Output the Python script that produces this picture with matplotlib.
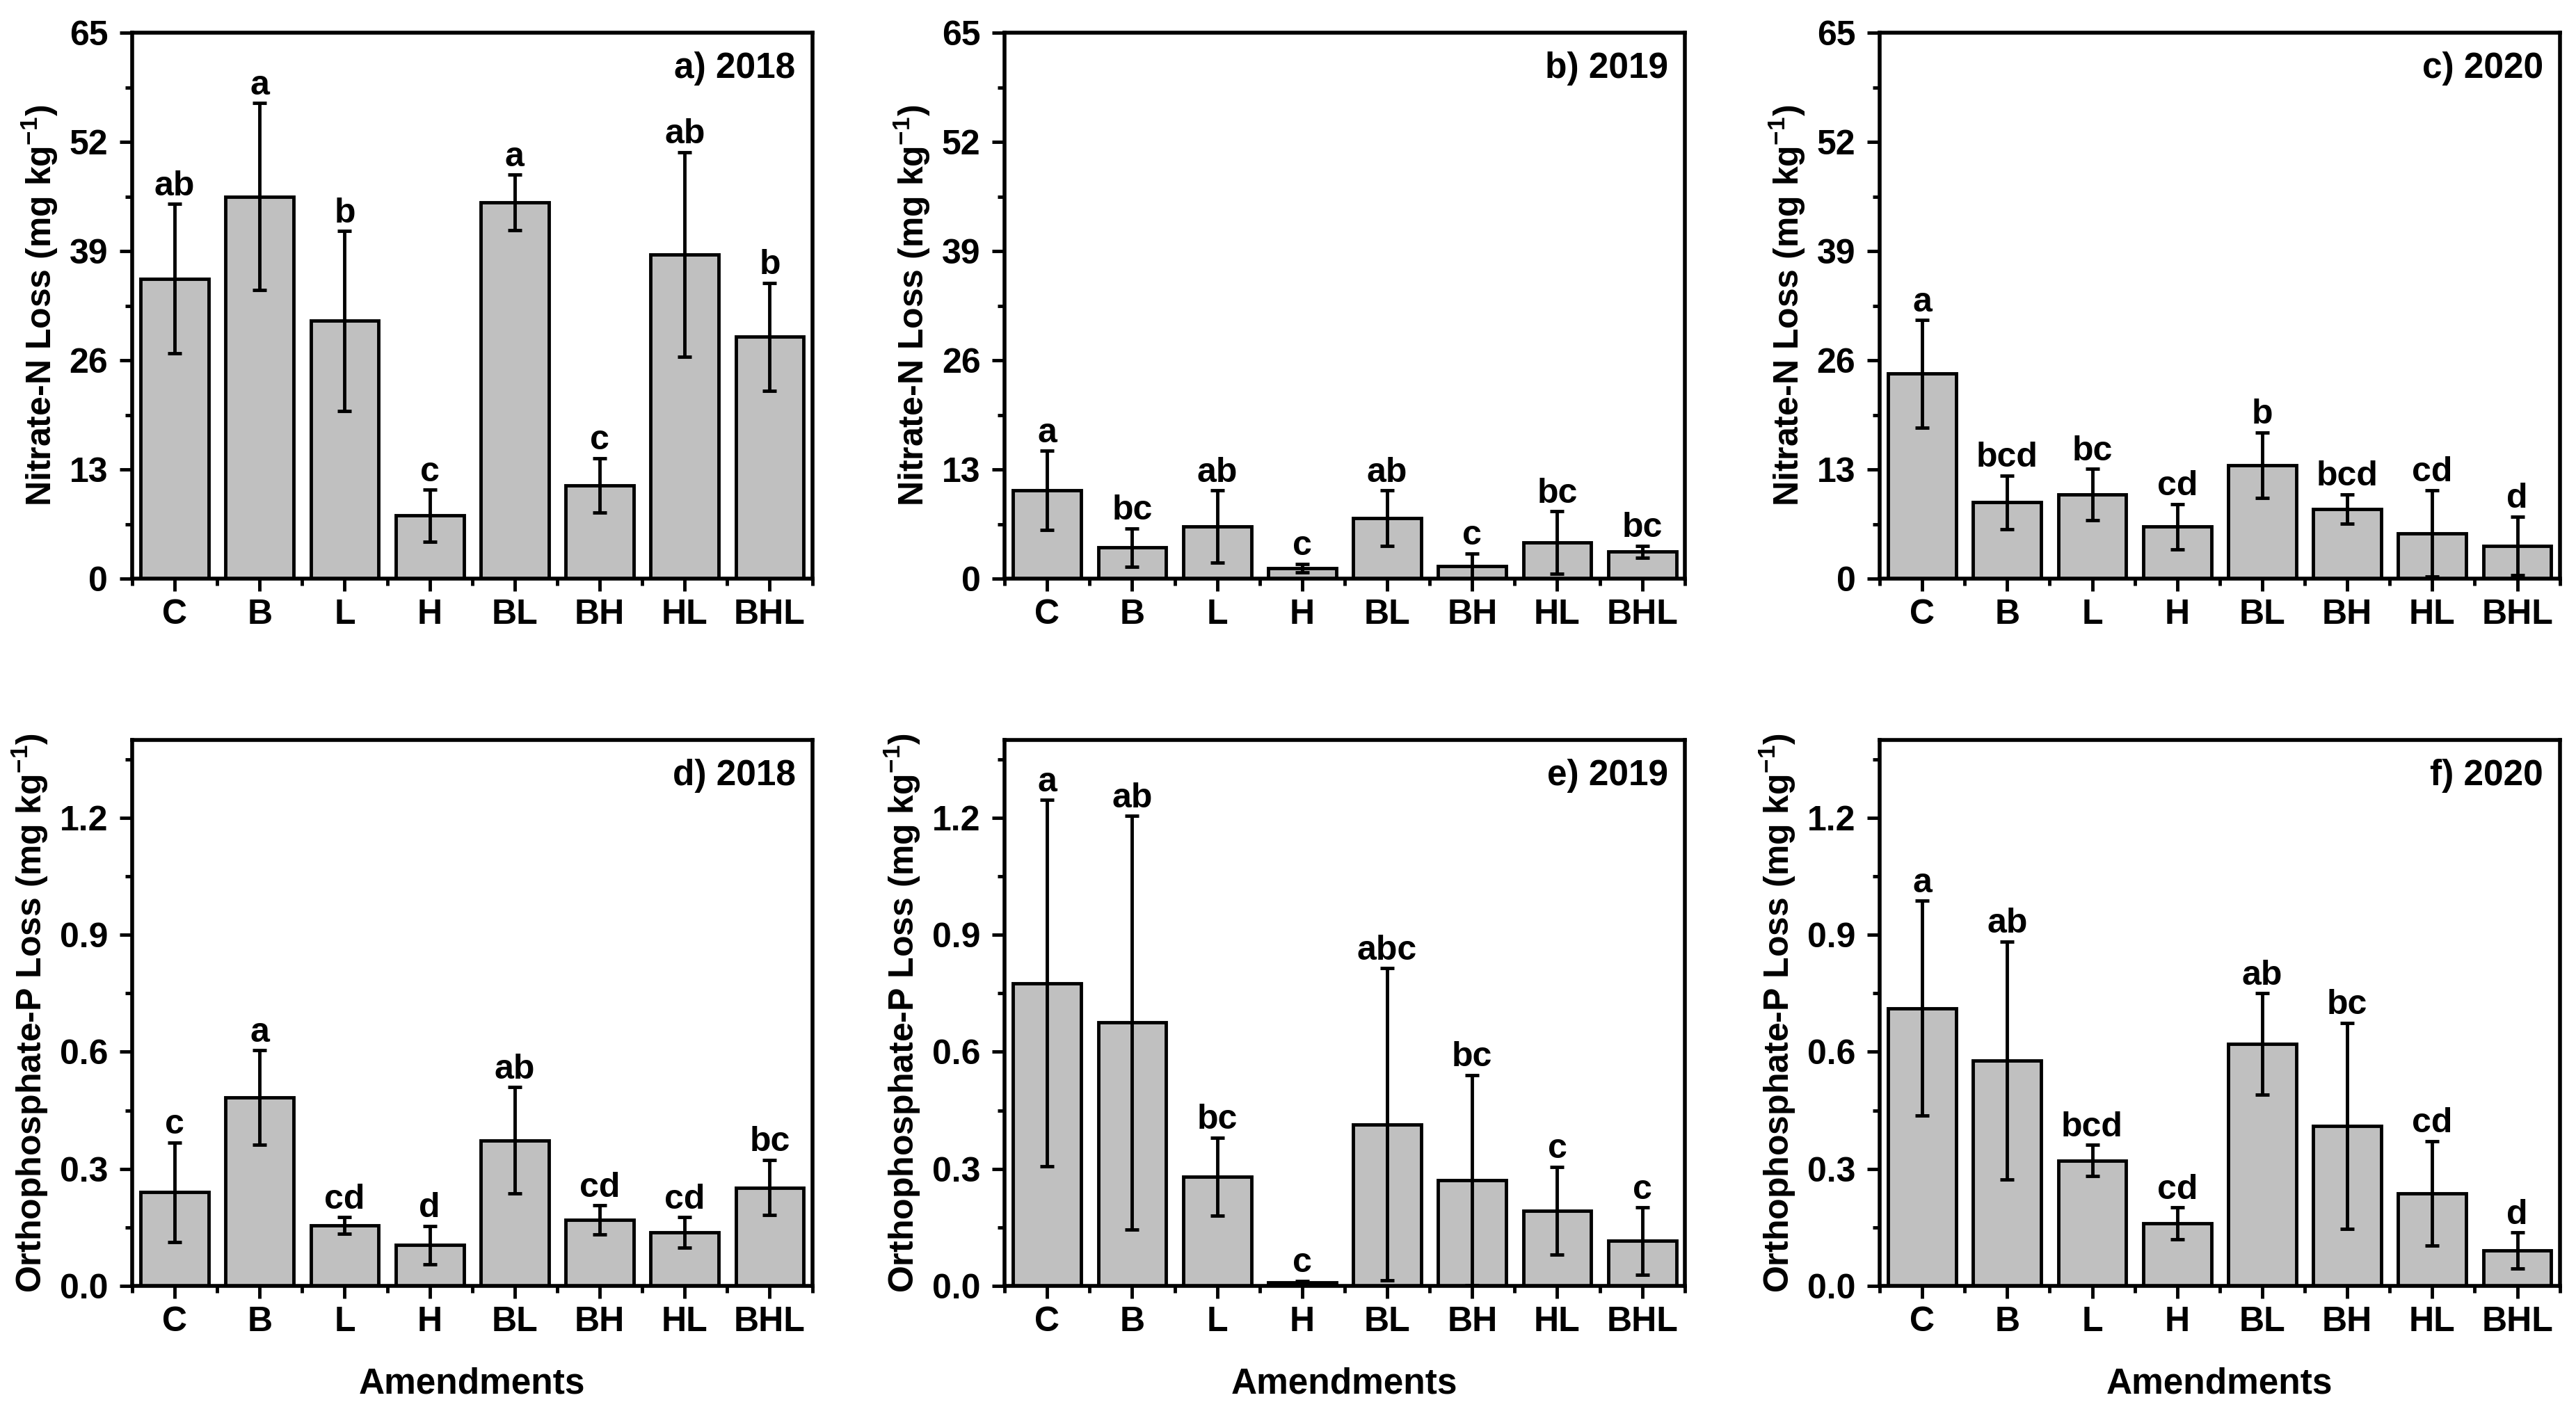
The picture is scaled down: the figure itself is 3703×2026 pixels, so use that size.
import numpy as np
import matplotlib
matplotlib.use("Agg")
from matplotlib import pyplot as plt
from matplotlib.ticker import FixedLocator, MultipleLocator

# categories
amendments = ["C", "B", "L", "H", "BL", "BH", "HL", "BHL"]

# nitrate-N loss (mg/kg), mean and error
nitrate_2018 = [35.7, 45.5, 30.7, 7.5, 44.8, 11.1, 38.6, 28.8]
nitrate_2018_err = [8.9, 11.1, 10.7, 3.1, 3.3, 3.25, 12.2, 6.4]
nitrate_2018_let = ["ab", "a", "b", "c", "a", "c", "ab", "b"]

nitrate_2019 = [10.5, 3.7, 6.2, 1.26, 7.2, 1.5, 4.3, 3.2]
nitrate_2019_err = [4.7, 2.3, 4.3, 0.5, 3.3, 1.5, 3.7, 0.7]
nitrate_2019_let = ["a", "bc", "ab", "c", "ab", "c", "bc", "bc"]

nitrate_2020 = [24.4, 9.1, 10.0, 6.2, 13.5, 8.3, 5.4, 3.9]
nitrate_2020_err = [6.4, 3.2, 3.05, 2.7, 3.9, 1.75, 5.15, 3.5]
nitrate_2020_let = ["a", "bcd", "bc", "cd", "b", "bcd", "cd", "d"]

# orthophosphate-P loss (mg/kg)
phos_2018 = [0.240, 0.483, 0.155, 0.105, 0.373, 0.169, 0.137, 0.252]
phos_2018_err = [0.128, 0.121, 0.021, 0.049, 0.136, 0.037, 0.039, 0.071]
phos_2018_let = ["c", "a", "cd", "d", "ab", "cd", "cd", "bc"]

phos_2019 = [0.776, 0.675, 0.280, 0.008, 0.414, 0.271, 0.193, 0.115]
phos_2019_err = [0.47, 0.53, 0.10, 0.005, 0.40, 0.27, 0.112, 0.086]
phos_2019_let = ["a", "ab", "bc", "c", "abc", "bc", "c", "c"]

phos_2020 = [0.712, 0.578, 0.321, 0.160, 0.620, 0.410, 0.237, 0.091]
phos_2020_err = [0.275, 0.305, 0.04, 0.041, 0.13, 0.264, 0.134, 0.046]
phos_2020_let = ["a", "ab", "bcd", "cd", "ab", "bc", "cd", "d"]

plt.rcParams['font.family'] = ['Liberation Sans', 'DejaVu Sans']
plt.rcParams['font.weight'] = 'bold'
plt.rcParams['mathtext.fontset'] = 'custom'
plt.rcParams['mathtext.rm'] = 'Liberation Sans:bold'
plt.rcParams['mathtext.it'] = 'Liberation Sans:bold'
plt.rcParams['mathtext.bf'] = 'Liberation Sans:bold'

FS = 36
TICK_FS = 36


def faz_painel(ax, valores, erros, letras, titulo, ylabel, ymax, passo, fmt):
    x = np.arange(len(amendments))
    ax.bar(x, valores, width=0.8, color="#c0c0c0", edgecolor="black", linewidth=3.5,
           yerr=erros, capsize=7,
           error_kw=dict(elinewidth=3.5, capthick=3.5, ecolor="black"), zorder=2)
    for xi, v, e, l in zip(x, valores, erros, letras):
        ax.annotate(l, (xi, v + e), xytext=(0, 9), textcoords="offset points",
                    ha="center", va="baseline", fontsize=FS, fontweight="bold")
    ax.set_xlim(-0.5, len(amendments) - 0.5)
    ax.set_ylim(0, ymax)
    ax.set_xticks(x)
    ax.set_xticklabels(amendments)
    ax.xaxis.set_minor_locator(FixedLocator(np.arange(-0.5, len(amendments), 1)))
    ax.yaxis.set_major_locator(MultipleLocator(passo))
    ax.yaxis.set_minor_locator(MultipleLocator(passo / 2))
    ax.yaxis.set_major_formatter(fmt)
    ax.tick_params(axis="x", which="major", direction="out", length=13, width=3.5,
                   labelsize=FS, pad=8)
    ax.tick_params(axis="x", which="minor", direction="out", length=7, width=3.5)
    ax.tick_params(axis="y", which="major", direction="out", length=13, width=3.5,
                   labelsize=TICK_FS, pad=12)
    ax.tick_params(axis="y", which="minor", direction="out", length=7, width=3.5)
    for s in ax.spines.values():
        s.set_linewidth(4)
    ax.set_ylabel(ylabel, fontsize=FS, fontweight="bold", labelpad=10)
    ax.text(0.9755, 0.917, titulo, transform=ax.transAxes, ha="right",
            va="baseline", fontsize=FS + 1, fontweight="bold")


fig = plt.figure(figsize=(37.03, 20.26), dpi=100)

lefts = [0.0513, 0.390, 0.7297]
width = 0.264
top_bottom = 0.5893
bot_bottom = 0.0874
height = 0.3875

n_label = "Nitrate-N Loss (mg kg$^{-1}$)"
p_label = "Orthophosphate-P Loss (mg kg$^{-1}$)"

nitratos = [(nitrate_2018, nitrate_2018_err, nitrate_2018_let, "a) 2018"),
            (nitrate_2019, nitrate_2019_err, nitrate_2019_let, "b) 2019"),
            (nitrate_2020, nitrate_2020_err, nitrate_2020_let, "c) 2020")]
fosfatos = [(phos_2018, phos_2018_err, phos_2018_let, "d) 2018"),
            (phos_2019, phos_2019_err, phos_2019_let, "e) 2019"),
            (phos_2020, phos_2020_err, phos_2020_let, "f) 2020")]

for left, (v, e, l, t) in zip(lefts, nitratos):
    ax = fig.add_axes([left, top_bottom, width, height])
    faz_painel(ax, v, e, l, t, n_label, 65, 13, "{x:.0f}")

for left, (v, e, l, t) in zip(lefts, fosfatos):
    ax = fig.add_axes([left, bot_bottom, width, height])
    faz_painel(ax, v, e, l, t, p_label, 1.4, 0.3, "{x:.1f}")
    ax.set_xlabel("Amendments", fontsize=FS + 1, fontweight="bold", labelpad=30)

fig.savefig("out.png", dpi=100)
